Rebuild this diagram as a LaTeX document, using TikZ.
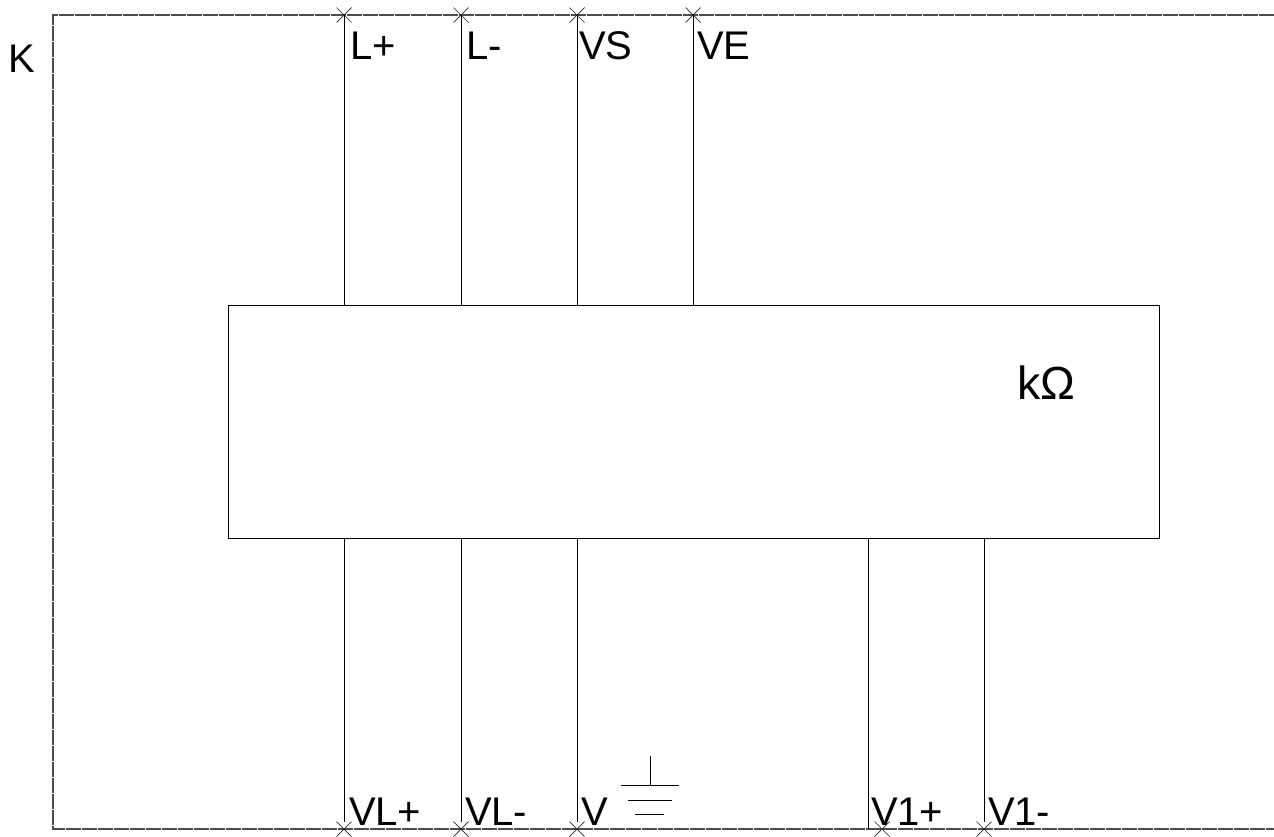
\documentclass[tikz,border=0pt]{standalone}
\usepackage{fontspec}
\setmainfont{Liberation Sans}
\usetikzlibrary{shapes.misc}
\tikzset{
  wire/.style={line width=1pt,black},
  framed/.style={line width=1.2pt,black!70,dash pattern=on 15.4pt off 0.6pt},
  pinmark/.style={cross out,draw,line width=0.7pt,black!85,minimum size=15pt,inner sep=0pt,outer sep=0pt},
  lbl/.style={anchor=base west,inner sep=0pt,outer sep=0pt,font=\fontsize{40}{40}\selectfont,text=black},
  modulebox/.style={draw,line width=1pt,black,fill=white,minimum width=931pt,minimum height=233pt,inner sep=0pt,outer sep=0pt,anchor=north west},
}
\begin{document}
\begin{tikzpicture}[x=1pt,y=-1pt]
\useasboundingbox (0,0) rectangle (1274,836);
% frame
\coordinate (fa) at (1274,15);
\coordinate (fb) at (53,15);
\coordinate (fc) at (53,829);
\coordinate (fd) at (1274,829);
\draw[framed] (fa) -- (fb) -- (fc) -- (fd);
% module
\node[modulebox] (mod) at (228,305) {};
% top pins
\node[pinmark] (t1) at (344,15) {};
\node[pinmark] (t2) at (461,15) {};
\node[pinmark] (t3) at (577,15) {};
\node[pinmark] (t4) at (693,15) {};
\foreach \p in {t1,t2,t3,t4}{
  \draw[wire] (\p.center) -- (\p.center |- mod.north);
}
% bottom pins
\node[pinmark] (b1) at (344,829) {};
\node[pinmark] (b2) at (461,829) {};
\node[pinmark] (b3) at (577,829) {};
\node[pinmark] (b4) at (882,829) {};
\node[pinmark] (b5) at (984,829) {};
\coordinate (b4w) at (868,829);
\foreach \p in {b1,b2,b3,b4w,b5}{
  \draw[wire] (\p) -- (\p |- mod.south);
}
% labels
\node[lbl] (k) at (9,72) {K};
\node[lbl] (lp) at (350,59) {L+};
\node[lbl] (lm) at (466,59) {L-};
\node[lbl] (vs) at (579,59) {VS};
\node[lbl] (ve) at (697,59) {VE};
\node[lbl,font=\fontsize{46.5}{46.5}\selectfont] (ko) at (1017,399) {kΩ};
\node[lbl] (vlp) at (349,825) {VL+};
\node[lbl] (vlm) at (465,825) {VL-};
\node[lbl] (v) at (581,825) {V};
\node[lbl] (vop) at (871,825) {V1+};
\node[lbl] (vom) at (988,825) {V1-};
% ground
\coordinate (g0) at (650,756);
\coordinate (g1) at (650,785);
\coordinate (g1l) at (621,785);
\coordinate (g1r) at (679,785);
\coordinate (g2l) at (628,800);
\coordinate (g2r) at (672,800);
\coordinate (g3l) at (635,814);
\coordinate (g3r) at (664,814);
\draw[wire] (g0) -- (g1);
\draw[wire] (g1l) -- (g1r);
\draw[wire] (g2l) -- (g2r);
\draw[wire] (g3l) -- (g3r);
\end{tikzpicture}
\end{document}
